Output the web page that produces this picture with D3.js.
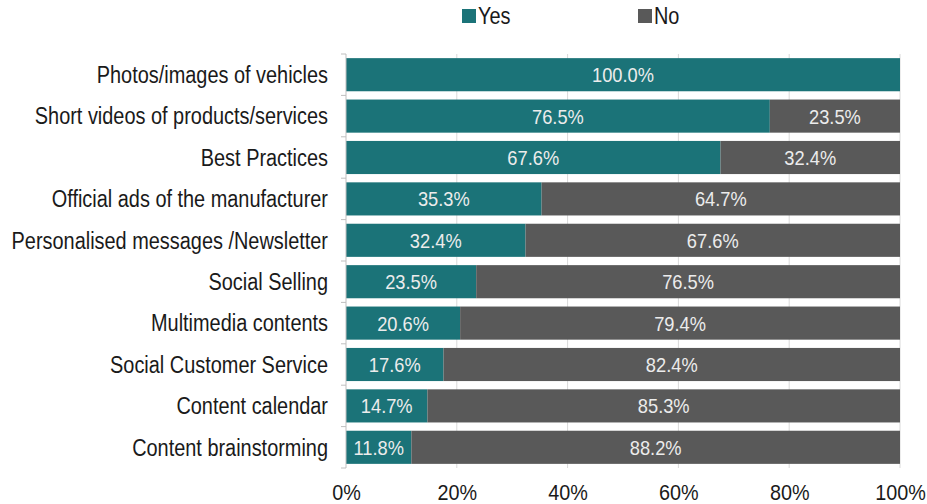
<!DOCTYPE html>
<html><head><meta charset="utf-8">
<script src="https://cdn.jsdelivr.net/npm/d3@7"></script>
<style>
body{margin:0;background:#fff;}
text{font-family:"Liberation Sans",Arial,sans-serif;}
</style></head>
<body><svg id="c" width="927" height="504"></svg>
<script>
const categories = ["Photos/images of vehicles","Short videos of products/services","Best Practices","Official ads of the manufacturer","Personalised messages /Newsletter","Social Selling","Multimedia contents","Social Customer Service","Content calendar","Content brainstorming"];
const yesValues = [100.0,76.5,67.6,35.3,32.4,23.5,20.6,17.6,14.7,11.8];
const noValues = [0,23.5,32.4,64.7,67.6,76.5,79.4,82.4,85.3,88.2];
const seriesNames = ["Yes","No"];
const tickValues = [0,20,40,60,80,100];
const colors = {Yes:"#1b7378", No:"#595959"};

const svg = d3.select("#c");
const m = {l:346, r:900, t:54, b:468};
const x = d3.scaleLinear().domain([0,100]).range([m.l,m.r]);
const y = d3.scaleBand().domain(categories).range([m.t,m.b]).paddingInner(0.2).paddingOuter(0.1);

// condensed text helper
function ntext(parent, tx, ty, str, size, sx, anchor, fill){
  return parent.append("text")
    .attr("transform",`translate(${tx},${ty}) scale(${sx},1)`)
    .attr("dy","0.36em").attr("text-anchor",anchor).attr("font-size",size).attr("fill",fill).text(str);
}

// gridlines
svg.append("g").selectAll("line").data(tickValues.slice(1)).join("line")
  .attr("x1",d=>x(d)).attr("x2",d=>x(d)).attr("y1",m.t).attr("y2",m.b)
  .attr("stroke","#d9d9d9").attr("stroke-width",1);

const rows = categories.map((c,i)=>({c, yes:yesValues[i], no:noValues[i]}));
const g = svg.append("g");
rows.forEach(r=>{
  g.append("rect").attr("x",x(0)).attr("y",y(r.c)).attr("width",x(r.yes)-x(0)).attr("height",y.bandwidth()).attr("fill",colors.Yes);
  if(r.no>0) g.append("rect").attr("x",x(r.yes)).attr("y",y(r.c)).attr("width",x(r.yes+r.no)-x(r.yes)).attr("height",y.bandwidth()).attr("fill",colors.No);
  const cy = y(r.c)+y.bandwidth()/2;
  ntext(g,(x(0)+x(r.yes))/2,cy,r.yes.toFixed(1)+"%",21,0.87,"middle","#ececec");
  if(r.no>0) ntext(g,(x(r.yes)+x(r.yes+r.no))/2,cy,r.no.toFixed(1)+"%",21,0.87,"middle","#ececec");
});

// y axis line and ticks
const ya = svg.append("g");
ya.append("line").attr("x1",m.l).attr("x2",m.l).attr("y1",m.t).attr("y2",m.b).attr("stroke","#bfbfbf");
const step = (m.b-m.t)/categories.length;
d3.range(categories.length+1).forEach(i=>{
  ya.append("line").attr("x1",m.l-5).attr("x2",m.l).attr("y1",m.t+i*step).attr("y2",m.t+i*step).attr("stroke","#bfbfbf");
});
categories.forEach(c=>{
  ntext(ya,m.l-18,y(c)+y.bandwidth()/2,c,23,0.866,"end","#1a1a1a");
});

// x axis labels
const xa = d3.axisBottom(x).tickValues(tickValues).tickFormat(d=>d+"%").tickSize(0);
const xg = svg.append("g").attr("transform",`translate(0,${m.b})`).call(xa);
xg.select(".domain").remove();
xg.selectAll(".tick text").remove();
xg.selectAll(".tick").each(function(d){
  ntext(d3.select(this),0,24,d+"%",22.5,0.88,"middle","#1a1a1a").style("font-family",'"Liberation Sans",Arial,sans-serif');
});

// legend
const leg = svg.append("g");
const lx = [462,638];
seriesNames.forEach((s,i)=>{
  leg.append("rect").attr("x",lx[i]).attr("y",9).attr("width",14).attr("height",14).attr("fill",colors[s]);
  ntext(leg,lx[i]+16,16,s,23,0.866,"start","#1a1a1a");
});
</script></body></html>
